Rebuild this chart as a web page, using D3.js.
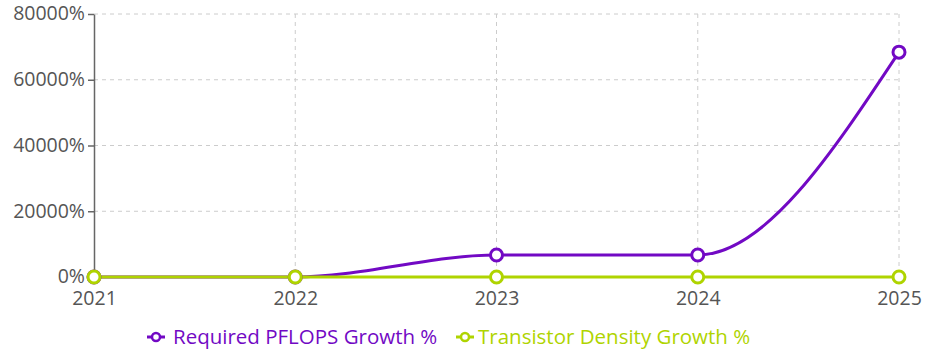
<!DOCTYPE html>
<html><head><meta charset="utf-8">
<script src="https://cdn.jsdelivr.net/npm/d3@7"></script>
<style>body{margin:0;background:#fff}svg text{font-family:"Open Sans","Noto Sans",sans-serif}</style>
</head><body><svg id="c" width="940" height="358"></svg>
<script>
const years = ["2021","2022","2023","2024","2025"];
const pflopsGrowth = [0, 0, 6700, 6700, 68400];
const densityGrowth = [0, 0, 0, 0, 0];
const yTicks = [0, 20000, 40000, 60000, 80000];
const seriesNames = ["Required PFLOPS Growth %", "Transistor Density Growth %"];
const colors = ["#7209c4", "#afd400"];

const svg = d3.select("#c");
const x = d3.scalePoint().domain(years).range([94, 899]);
const y = d3.scaleLinear().domain([0, 80000]).range([277, 14]);

// grid
const g = svg.append("g");
g.selectAll(".hg").data(yTicks.filter(d=>d>0)).join("line")
  .attr("x1", 94).attr("x2", 899).attr("y1", d=>y(d)).attr("y2", d=>y(d))
  .attr("stroke", "#ccc").attr("stroke-dasharray", "4,4");
g.selectAll(".vg").data(years.slice(1)).join("line")
  .attr("x1", d=>x(d)).attr("x2", d=>x(d)).attr("y1", 14).attr("y2", 277)
  .attr("stroke", "#ccc").attr("stroke-dasharray", "4,4");

// y axis
const ya = svg.append("g").attr("transform", "translate(94,0)")
  .call(d3.axisLeft(y).tickValues(yTicks).tickFormat(d=>d+"%").tickSize(6).tickSizeOuter(0));
ya.select(".domain").attr("stroke", "#666").attr("stroke-width", 1.5);
ya.selectAll(".tick line").attr("stroke", "#666").attr("stroke-width", 1.5);
ya.selectAll("text").attr("fill", "#555").style("font-size", "19.5px").attr("x", -9).attr("dy", "0.3em");

// x axis labels
const xa = svg.append("g").attr("transform", "translate(0,277)")
  .call(d3.axisBottom(x).tickSize(0));
xa.select(".domain").remove();
xa.selectAll("text").attr("fill", "#555").style("font-size", "19.5px").attr("dy", "0.35em").attr("y", 21);

const line = d3.line().x((d,i)=>x(years[i])).y(d=>y(d)).curve(d3.curveMonotoneX);
const data = [pflopsGrowth, densityGrowth];
data.forEach((s, k) => {
  svg.append("path").attr("d", line(s)).attr("fill", "none")
    .attr("stroke", colors[k]).attr("stroke-width", 3);
});
data.forEach((s, k) => {
  svg.selectAll(".p"+k).data(s).join("circle")
    .attr("cx", (d,i)=>x(years[i])).attr("cy", d=>y(d)).attr("r", 6)
    .attr("fill", "#fff").attr("stroke", colors[k]).attr("stroke-width", 3);
});

// legend
const leg = [{x:147, tx:173}, {x:456, tx:478}];
seriesNames.forEach((n, k) => {
  const lg = svg.append("g");
  lg.append("line").attr("x1", leg[k].x).attr("x2", leg[k].x+18).attr("y1", 337).attr("y2", 337)
    .attr("stroke", colors[k]).attr("stroke-width", 3);
  lg.append("circle").attr("cx", leg[k].x+9).attr("cy", 337).attr("r", 4)
    .attr("fill", "#fff").attr("stroke", colors[k]).attr("stroke-width", 2.5);
  lg.append("text").attr("x", leg[k].tx).attr("y", 337).attr("dy", "0.35em")
    .attr("fill", colors[k]).style("font-size", "20.5px").text(n);
});
</script></body></html>
